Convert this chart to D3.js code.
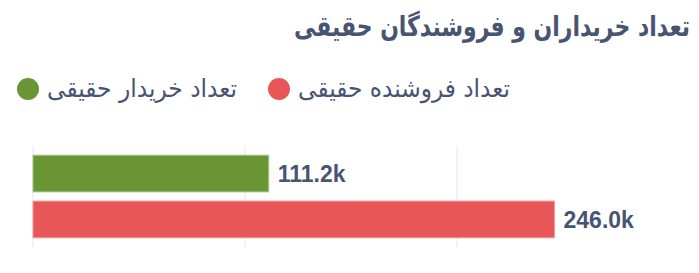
<!DOCTYPE html>
<html>
<head>
<meta charset="utf-8">
<script src="https://cdn.jsdelivr.net/npm/d3@7"></script>
<style>
  body { margin: 0; background: #fff; }
  svg { display: block; }
</style>
</head>
<body>
<div id="chart"></div>
<script>
// chart data
var title = "تعداد خریداران و فروشندگان حقیقی";
var categories = ["تعداد خریدار حقیقی", "تعداد فروشنده حقیقی"];
var values = [111.2, 246.0];          // thousands
var barColors = ["#6a9535", "#e85657"];
var barStrokes = ["#a9c48c", "#f59a9a"];
var gridTicks = [0, 100, 200];

var w = 699;
var h = 273;
var textColor = "#475472";
var faFont = "'DejaVu Sans', 'Noto Sans', sans-serif";

var svg = d3.select("#chart")
    .append("svg")
    .attr("width", w)
    .attr("height", h);

var x = d3.scaleLinear()
    .domain([0, 300])
    .range([33, 669]);

var y = d3.scaleBand()
    .domain(categories)
    .range([146, 247])
    .paddingInner(0.2)
    .paddingOuter(0.2);

// title
svg.append("text")
    .attr("x", 690)
    .attr("y", 36)
    .attr("text-anchor", "end")
    .attr("font-family", faFont)
    .attr("font-weight", "bold")
    .attr("font-size", 28)
    .attr("textLength", 396)
    .attr("lengthAdjust", "spacingAndGlyphs")
    .attr("fill", textColor)
    .text(title);

// legend: red item first (right), then green
var legendItems = [
    {label: categories[1], color: barColors[1], cx: 279, len: 212},
    {label: categories[0], color: barColors[0], cx: 28, len: 190}
];
var legend = svg.selectAll("g.legend")
    .data(legendItems)
    .enter()
    .append("g")
    .attr("class", "legend");

legend.append("circle")
    .attr("cx", function(d){ return d.cx; })
    .attr("cy", 89)
    .attr("r", 11)
    .attr("fill", function(d){ return d.color; });

legend.append("text")
    .attr("x", function(d){ return d.cx + 19; })
    .attr("y", 97)
    .attr("text-anchor", "start")
    .attr("font-family", faFont)
    .attr("font-size", 25)
    .attr("textLength", function(d){ return d.len; })
    .attr("lengthAdjust", "spacingAndGlyphs")
    .attr("fill", textColor)
    .text(function(d){ return d.label; });

// grid lines
svg.selectAll("line.grid")
    .data(gridTicks)
    .enter()
    .append("line")
    .attr("class", "grid")
    .attr("x1", function(d){ return x(d); })
    .attr("x2", function(d){ return x(d); })
    .attr("y1", 146)
    .attr("y2", 247)
    .attr("stroke", "#e6e6e6")
    .attr("stroke-width", 1);

// bars
svg.selectAll("rect.bar")
    .data(values)
    .enter()
    .append("rect")
    .attr("class", "bar")
    .attr("x", x(0))
    .attr("y", function(d, i){ return y(categories[i]); })
    .attr("width", function(d){ return x(d) - x(0); })
    .attr("height", y.bandwidth())
    .attr("fill", function(d, i){ return barColors[i]; })
    .attr("stroke", function(d, i){ return barStrokes[i]; })
    .attr("stroke-width", 1);

// value labels
svg.selectAll("text.val")
    .data(values)
    .enter()
    .append("text")
    .attr("class", "val")
    .attr("x", function(d){ return x(d) + 9; })
    .attr("y", function(d, i){ return y(categories[i]) + y.bandwidth() / 2; })
    .attr("dy", "0.36em")
    .attr("font-family", "'Liberation Sans', Arial, sans-serif")
    .attr("font-weight", "bold")
    .attr("font-size", 23)
    .attr("fill", textColor)
    .text(function(d){ return d.toFixed(1) + "k"; });
</script>
</body>
</html>
